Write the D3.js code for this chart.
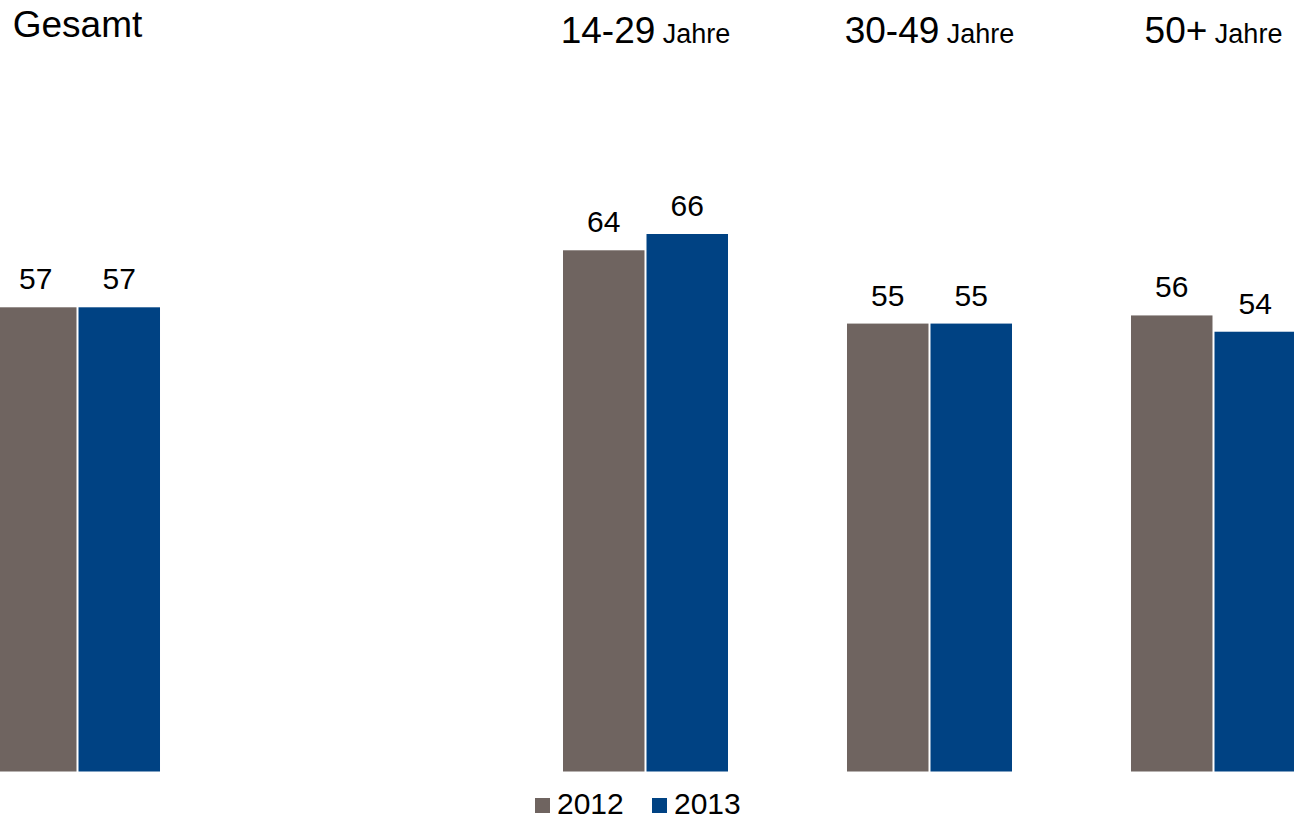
<!DOCTYPE html>
<html>
<head>
<meta charset="utf-8">
<script src="https://cdn.jsdelivr.net/npm/d3@7"></script>
<style>
  body { margin: 0; background: #fff; }
  svg { display: block; font-family: "Liberation Sans", Arial, sans-serif; }
</style>
</head>
<body>
<div id="chart"></div>
<script>
// slots: "" is the empty gap between Gesamt and the age groups
const slots = ["Gesamt", "", "14-29", "30-49", "50+"];
const groups = ["Gesamt", "14-29", "30-49", "50+"];
const groupSuffix = ["", "Jahre", "Jahre", "Jahre"];
const years = ["2012", "2013"];
const values2012 = [57, 64, 55, 56];
const values2013 = [57, 66, 55, 54];

const colors = { "2012": "#6f6460", "2013": "#004283" };

const width = 1294, height = 820;

const svg = d3.select("#chart").append("svg")
    .attr("width", width)
    .attr("height", height);

const x0 = d3.scaleBand()
    .domain(slots)
    .range([-5, 1296])
    .paddingInner(0.419)
    .paddingOuter(0);

const x1 = d3.scaleBand()
    .domain(years)
    .range([0, x0.bandwidth()])
    .paddingInner(0.024);

const y = d3.scaleLinear()
    .domain([0, 66])
    .range([771.5, 234]);

const rows = groups.map((g, i) => ({
    group: g,
    suffix: groupSuffix[i],
    vals: [
        { year: "2012", value: values2012[i] },
        { year: "2013", value: values2013[i] }
    ]
}));

const g = svg.append("g")
    .selectAll("g")
    .data(rows)
    .join("g")
    .attr("transform", d => `translate(${x0(d.group)},0)`);

// bars
g.selectAll("rect")
    .data(d => d.vals)
    .join("rect")
    .attr("x", d => x1(d.year))
    .attr("y", d => y(d.value))
    .attr("width", x1.bandwidth())
    .attr("height", d => y(0) - y(d.value))
    .attr("fill", d => colors[d.year]);

// value labels
g.selectAll("text.val")
    .data(d => d.vals)
    .join("text")
    .attr("class", "val")
    .attr("x", d => x1(d.year) + x1.bandwidth() / 2)
    .attr("y", d => y(d.value) - 18)
    .attr("text-anchor", "middle")
    .style("font-size", "30px")
    .attr("fill", "#000")
    .text(d => d.value);

// group titles
const title = g.append("text")
    .attr("x", x0.bandwidth() / 2)
    .attr("y", d => d.suffix ? 43 : 37)
    .attr("text-anchor", "middle")
    .attr("fill", "#000");

title.append("tspan")
    .style("font-size", "37px")
    .text(d => d.group);

title.filter(d => d.suffix)
    .append("tspan")
    .style("font-size", "27px")
    .text(d => " " + d.suffix);

// legend
const legendX = [535, 652];
const legend = svg.append("g")
    .selectAll("g")
    .data(years)
    .join("g")
    .attr("transform", (d, i) => `translate(${legendX[i]},798)`);

legend.append("rect")
    .attr("width", 15)
    .attr("height", 15)
    .attr("fill", d => colors[d]);

legend.append("text")
    .attr("x", 22)
    .attr("y", 15.5)
    .style("font-size", "30px")
    .attr("fill", "#000")
    .text(d => d);
</script>
</body>
</html>
